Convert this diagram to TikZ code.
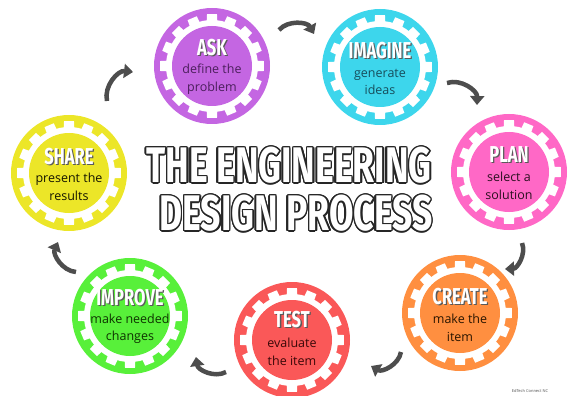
\documentclass[tikz,border=0pt]{standalone}
\usepackage{fontspec}
\usepackage{contour}
\usetikzlibrary{arrows.meta}
\setmainfont{Open Sans}
\newfontfamily\headfont[FakeStretch=0.72]{Fira Sans}
\newfontfamily\bigfont[FakeStretch=0.71]{Fira Sans}
\definecolor{askc}{HTML}{C466E2}
\definecolor{imaginec}{HTML}{3DD6EC}
\definecolor{planc}{HTML}{FF68C6}
\definecolor{createc}{HTML}{FF8F40}
\definecolor{testc}{HTML}{FA5858}
\definecolor{improvec}{HTML}{58F03A}
\definecolor{sharec}{HTML}{ECE628}
\definecolor{askt}{HTML}{4B1F5C}
\definecolor{imaginet}{HTML}{174E5C}
\definecolor{plant}{HTML}{2B1020}
\definecolor{createt}{HTML}{2A1500}
\definecolor{testt}{HTML}{3A0808}
\definecolor{improvet}{HTML}{0E3300}
\definecolor{sharet}{HTML}{151500}
\definecolor{shadegray}{HTML}{5A5A5A}
\definecolor{arrowgray}{HTML}{4D4D4D}
\definecolor{outline}{HTML}{262626}
\newcommand{\shadetitle}[1]{\rlap{\kern1.3pt\raisebox{-1.3pt}{\color{shadegray}#1}}#1}
\contourlength{1.5pt}

\begin{document}
\begin{tikzpicture}[x=1pt,y=-1pt,
  stage/.style={circle,fill=#1,minimum size=116pt,inner sep=0pt,
    path picture={\begin{scope}[shift={(path picture bounding box.center)}]
      \fill[white] (0,0) circle (46pt);
      \foreach \a in {0,22.5,...,337.5}
        \fill[white] (\a-7:44pt) -- (\a-5.5:52pt) -- (\a+5.5:52pt) -- (\a+7:44pt) -- cycle;
      \fill[#1] (0,0) circle (40pt);
    \end{scope}}},
  head/.style={text=white,font=\headfont\bfseries\fontsize{23}{23}\selectfont,inner sep=0pt},
  info/.style={text=#1,font=\fontsize{12.5}{17.5}\selectfont,align=center,inner sep=0pt},
  big/.style={text=white,font=\bigfont\bfseries\fontsize{50}{50}\selectfont,inner sep=0pt},
  cyc/.style={draw=arrowgray,line width=4.5pt,-{Triangle[length=9pt,width=14pt]}}]
  \useasboundingbox (0,0) rectangle (579,396);

  \node[stage=askc] (ask) at (212,66) {};
  \node[head] (askH) at ([yshift=18pt]ask.center) {\shadetitle{ASK}};
  \node[info=askt] (askI) at ([yshift=-13pt]ask.center) {define the\\problem};

  \node[stage=imaginec] (imagine) at (380,67) {};
  \node[head] (imagineH) at ([yshift=16pt]imagine.center) {\shadetitle{IMAGINE}};
  \node[info=imaginet] (imagineI) at ([yshift=-15pt]imagine.center) {generate\\ideas};

  \node[stage=planc] (plan) at (509,172) {};
  \node[head] (planH) at ([yshift=17pt]plan.center) {\shadetitle{PLAN}};
  \node[info=plant] (planI) at ([yshift=-14pt]plan.center) {select a\\solution};

  \node[stage=createc] (create) at (460,313) {};
  \node[head] (createH) at ([yshift=16pt]create.center) {\shadetitle{CREATE}};
  \node[info=createt] (createI) at ([yshift=-15pt]create.center) {make the\\item};

  \node[stage=testc] (test) at (292,340) {};
  \node[head] (testH) at ([yshift=20pt]test.center) {\shadetitle{TEST}};
  \node[info=testt] (testI) at ([yshift=-12pt]test.center) {evaluate\\the item};

  \node[stage=improvec] (improve) at (130,316) {};
  \node[head] (improveH) at ([yshift=18pt]improve.center) {\shadetitle{IMPROVE}};
  \node[info=improvet] (improveI) at ([yshift=-13pt]improve.center) {make needed\\changes};

  \node[stage=sharec] (share) at (69,173) {};
  \node[head] (shareH) at ([yshift=16pt]share.center) {\shadetitle{SHARE}};
  \node[info=sharet] (shareI) at ([yshift=-14pt]share.center) {present the\\results};

  \node[big] (title1) at (289,166) {\contour{outline}{THE ENGINEERING}};
  \node[big] (title2) at (296,214) {\contour{outline}{DESIGN PROCESS}};

  \coordinate (t1) at (279,30);  \coordinate (h1) at (314,34);
  \coordinate (t2) at (447,83);  \coordinate (h2) at (477,105);
  \coordinate (t3) at (522,243); \coordinate (h3) at (505,269);
  \coordinate (t4) at (401,352); \coordinate (h4) at (371,366);
  \coordinate (t5) at (226,372); \coordinate (h5) at (196,357);
  \coordinate (t6) at (76,272);  \coordinate (h6) at (58,242);
  \coordinate (t7) at (107,101); \coordinate (h7) at (133,72);
  \foreach \i in {1,...,7}
    \draw[cyc] (t\i) to[bend left=55] (h\i);

  \node[font=\fontsize{4}{4}\selectfont,text=black!70] (credit) at (530,391) {EdTech Connect NC};
\end{tikzpicture}
\end{document}
